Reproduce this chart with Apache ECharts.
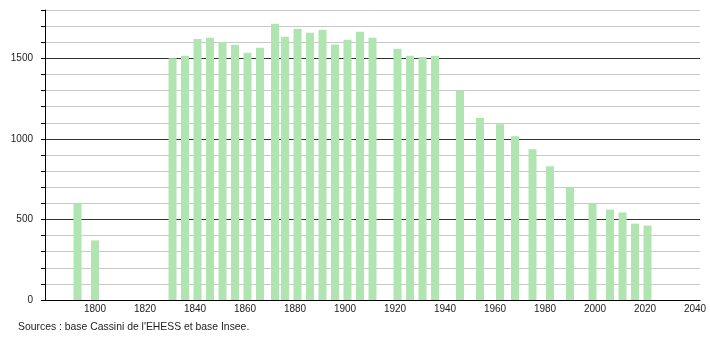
<!DOCTYPE html>
<html>
<head>
<meta charset="utf-8">
<script src="https://cdn.jsdelivr.net/npm/echarts@6/dist/echarts.min.js"></script>
<style>
html,body{margin:0;padding:0;background:#fff;}
#chart{width:710px;height:340px;}
</style>
</head>
<body>
<div id="chart"></div>
<script>
var years = [1793, 1800, 1831, 1836, 1841, 1846, 1851, 1856, 1861, 1866, 1872, 1876, 1881, 1886, 1891, 1896, 1901, 1906, 1911, 1921, 1926, 1931, 1936, 1946, 1954, 1962, 1968, 1975, 1982, 1990, 1999, 2006, 2011, 2016, 2021];
var population = [599, 370, 1500, 1516, 1620, 1628, 1601, 1584, 1534, 1566, 1715, 1634, 1684, 1659, 1678, 1586, 1615, 1665, 1628, 1559, 1516, 1509, 1516, 1299, 1129, 1091, 1017, 936, 830, 697, 599, 561, 543, 474, 462];
var yLabels = [0, 500, 1000, 1500];
var xLabels = [1800, 1820, 1840, 1860, 1880, 1900, 1920, 1940, 1960, 1980, 2000, 2020, 2040];
var sourceText = "Sources : base Cassini de l'EHESS et base Insee.";

var data = years.map(function (y, i) { return [y, population[i]]; });
var font = '"Liberation Sans", Arial, sans-serif';

var chart = echarts.init(document.getElementById('chart'), null, {renderer: 'canvas'});
chart.setOption({
  animation: false,
  grid: {left: 45, right: 10, top: 10, bottom: 40, containLabel: false},
  xAxis: {
    type: 'value', min: 1780, max: 2042, interval: 20,
    axisLine: {show: true, onZero: false, lineStyle: {color: '#000', width: 1}},
    axisTick: {show: false},
    splitLine: {show: false},
    axisLabel: {
      color: '#222', fontFamily: font, fontSize: 10, margin: 4,
      showMinLabel: true, showMaxLabel: true,
      formatter: function (v) { return xLabels.indexOf(v) >= 0 ? String(v) : ''; }
    }
  },
  yAxis: {
    type: 'value', min: 0, max: 1800, interval: 100,
    axisLine: {show: true, lineStyle: {color: '#000', width: 1}},
    axisTick: {show: true, length: 4, lineStyle: {color: '#000'}},
    splitLine: {show: true, lineStyle: {color: ['#333', '#c8c8c8', '#c8c8c8', '#c8c8c8', '#c8c8c8'], width: 1}},
    axisLabel: {
      color: '#222', fontFamily: font, fontSize: 10, margin: 12,
      formatter: function (v) { return yLabels.indexOf(v) >= 0 ? String(v) : ''; }
    }
  },
  series: [{
    type: 'bar',
    data: data,
    barWidth: 8,
    itemStyle: {color: '#b0e4b0'},
    z: 3
  }],
  graphic: [{
    type: 'text', left: 18, top: 322,
    style: {text: sourceText, font: '10.4px ' + font, fill: '#222'}
  }]
});
</script>
</body>
</html>
